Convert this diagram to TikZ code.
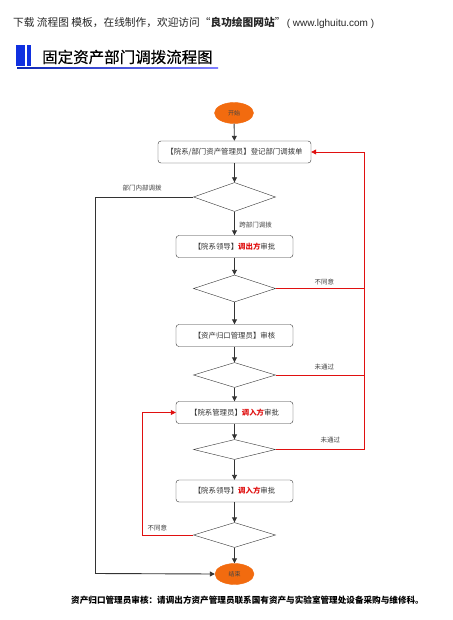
\documentclass[tikz,border=0pt]{standalone}
\usepackage{fontspec}
\setmainfont{Noto Sans CJK SC}
\newfontfamily\cjk{Noto Sans CJK SC}
\newfontfamily\cjkmed[FakeBold=0.4]{Noto Sans CJK SC}
\newfontfamily\latn{Liberation Sans}
\usetikzlibrary{shapes.geometric,arrows.meta,positioning}
\definecolor{linegray}{HTML}{333333}
\definecolor{redl}{HTML}{E01010}
\definecolor{orangef}{HTML}{F26B0F}
\definecolor{titleblue}{HTML}{1030E0}
\definecolor{txtgray}{HTML}{444444}
\begin{document}
\begin{tikzpicture}[x=1pt,y=-1pt,
  every node/.style={font=\cjk},
  term/.style={ellipse,fill=orangef,draw=orangef,minimum width=39pt,minimum height=21pt,inner sep=0pt,font=\cjk\fontsize{6}{7}\selectfont,text=txtgray},
  procbox/.style={draw=linegray,rounded corners=3pt,minimum height=22pt,inner sep=0pt,font=\cjk\fontsize{7.4}{9}\selectfont,text=black!80},
  dec/.style={diamond,draw=linegray,aspect=2.8,minimum width=82pt,minimum height=29pt,inner sep=0pt},
  flow/.style={draw=linegray,line width=0.9pt,-{Triangle[length=5pt,width=5pt]}},
  back/.style={draw=redl,line width=0.8pt},
  backarr/.style={draw=redl,line width=0.8pt,-{Triangle[length=5pt,width=5pt]}},
  lbl/.style={font=\cjk\fontsize{6.5}{8}\selectfont,text=txtgray},
  redt/.style={text=redl}
]
\useasboundingbox (0,0) rectangle (452,620);
\fill[white] (0,0) rectangle (452,620);
% header
\node[anchor=west,inner sep=0pt,font=\cjk\fontsize{10.7}{12}\selectfont,text=black!85] (hdr) at (13,22) {下载 流程图 模板，在线制作，欢迎访问“\textbf{良功绘图网站}”};
\node[anchor=base west,inner sep=0pt,font=\latn\fontsize{10}{11}\selectfont,text=black!85] (url) at ([xshift=1pt]hdr.base east) {( www.lghuitu.com )};
% title
\fill[titleblue] (16,45) rectangle (25,66);
\fill[titleblue] (27,45) rectangle (31,66);
\shade[left color=titleblue!80!black,right color=blue!50!white] (17,67.2) rectangle (218,68.8);
\node[anchor=west,inner sep=0pt,font=\cjkmed\fontsize{15.5}{17}\selectfont] (title) at (42,57) {固定资产部门调拨流程图};

% nodes
\node[term] (start) at (234,113) {开始};
\node[procbox,minimum width=153pt] (b1) at (234.5,152) {【院系/部门资产管理员】登记部门调拨单};
\node[dec] (d1) at (234.5,197) {};
\node[procbox,minimum width=117pt] (b2) at (234.5,246.5) {【院系领导】\textcolor{redl}{\textbf{调出方}}审批};
\node[dec,minimum height=27pt] (d2) at (234.5,288.5) {};
\node[procbox,minimum width=117pt] (b3) at (234.5,335.5) {【资产归口管理员】审核};
\node[dec,minimum height=25pt] (d3) at (234.5,375) {};
\node[procbox,minimum width=117pt] (b4) at (234.5,412.5) {【院系管理员】\textcolor{redl}{\textbf{调入方}}审批};
\node[dec,minimum height=20pt] (d4) at (234.5,449.5) {};
\node[procbox,minimum width=117pt] (b5) at (234.5,491) {【院系领导】\textcolor{redl}{\textbf{调入方}}审批};
\node[dec,minimum height=25pt] (d5) at (234.5,535) {};
\node[term] (end) at (234.5,574) {结束};

% main flow
\draw[flow] (start) -- (b1);
\draw[flow] (b1) -- (d1);
\draw[flow] (d1) -- node[lbl,right,pos=0.55,xshift=1pt] (l2) {跨部门调拨} (b2);
\draw[flow] (b2) -- (d2);
\draw[flow] (d2) -- (b3);
\draw[flow] (b3) -- (d3);
\draw[flow] (d3) -- (b4);
\draw[flow] (b4) -- (d4);
\draw[flow] (d4) -- (b5);
\draw[flow] (b5) -- (d5);
\draw[flow] (d5) -- (end);

% internal transfer
\coordinate (c1) at (95,197);
\coordinate (c2) at (95,573.5);
\draw[draw=linegray,line width=0.9pt] (d1.west) -- (c1) -- (c2);
\draw[flow] (c2) -- (end.west);
\node[lbl] (l1) at (142,188) {部门内部调拨};

% red returns
\coordinate (r2) at (364,288.5);
\coordinate (r3) at (364,375);
\coordinate (r4) at (364,449.5);
\coordinate (rt) at (364,152);
\draw[back] (d2.east) -- node[lbl,above,pos=0.55] (l3) {不同意} (r2);
\draw[back] (d3.east) -- node[lbl,above,pos=0.55,yshift=1pt] (l4) {未通过} (r3);
\draw[back] (d4.east) -- node[lbl,above,pos=0.62,yshift=3pt] (l5) {未通过} (r4);
\draw[back] (r4) -- (rt);
\draw[backarr] (rt) -- (b1.east);

\coordinate (q1) at (142,535);
\coordinate (q2) at (142,412.5);
\draw[back] (d5.west) -- node[lbl,above,pos=0.7] (l6) {不同意} (q1);
\draw[back] (q1) -- (q2);
\draw[backarr] (q2) -- (b4.west);

% footnote
\node[anchor=west,inner sep=0pt,font=\cjk\bfseries\fontsize{8.6}{10}\selectfont] (foot) at (71,600) {资产归口管理员审核：请调出方资产管理员联系国有资产与实验室管理处设备采购与维修科。};
\end{tikzpicture}
\end{document}
